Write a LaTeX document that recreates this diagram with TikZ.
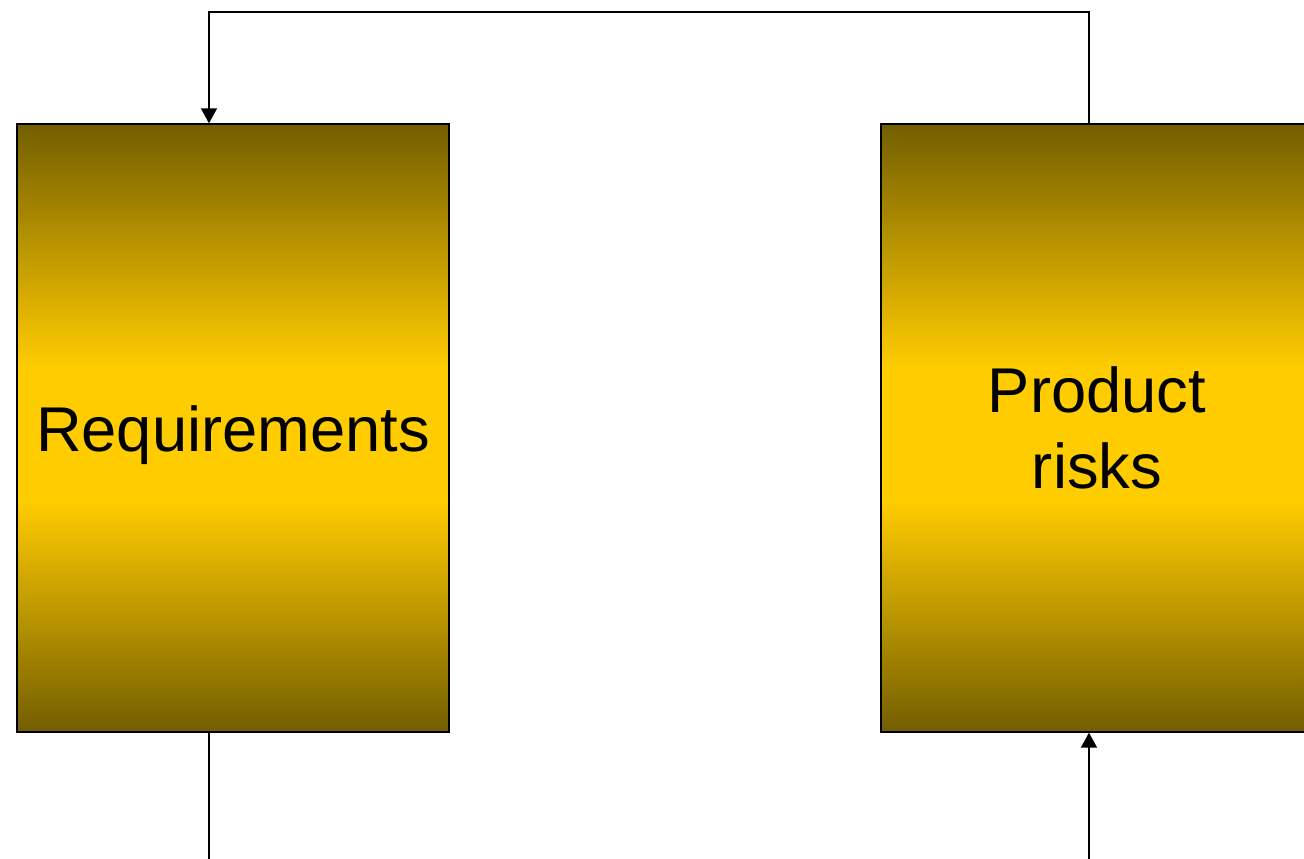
\documentclass[tikz,border=0pt]{standalone}
\usepackage{fontspec}
\setmainfont{Liberation Sans}
\usetikzlibrary{arrows.meta}
\definecolor{barDark}{RGB}{115,94,0}
\definecolor{barGold}{RGB}{255,204,0}
\pgfdeclareverticalshading{goldbar}{100bp}{color(0bp)=(barDark); color(25bp)=(barDark); color(44bp)=(barGold); color(55bp)=(barGold); color(75bp)=(barDark); color(100bp)=(barDark)}
\tikzset{
    bar/.style = {draw = black, line width = 0.8pt, shading = goldbar,
        minimum width = 8.64cm, minimum height = 12.16cm, inner sep = 0pt,
        align = center, font = \fontsize{36}{43}\selectfont},
    link/.style = {line width = 1.1pt},
    tip/.style = {-{Triangle[length = 0.3cm, width = 0.32cm]}}
}
\begin{document}
\begin{tikzpicture}
    \useasboundingbox (0,0) rectangle (26.08,17.18);
    \node[bar] (req) at (4.66,8.62) {\raisebox{-0.14cm}[\height][\depth]{Requirements}};
    \node[bar] (risk) at (21.94,8.62) {Product\\risks};
    \coordinate (reqx) at (4.18,0);
    \coordinate (riskx) at (21.78,0);
    \coordinate (loop) at (0,16.94);
    \coordinate (base) at (0,0);
    \begin{scope}[style = link]
        \draw[tip] (riskx |- risk.north) |- (loop -| reqx) -- (reqx |- req.north);
        \draw (reqx |- req.south) -- (reqx |- base);
        \draw[tip] (riskx |- base) -- (riskx |- risk.south);
    \end{scope}
\end{tikzpicture}
\end{document}
